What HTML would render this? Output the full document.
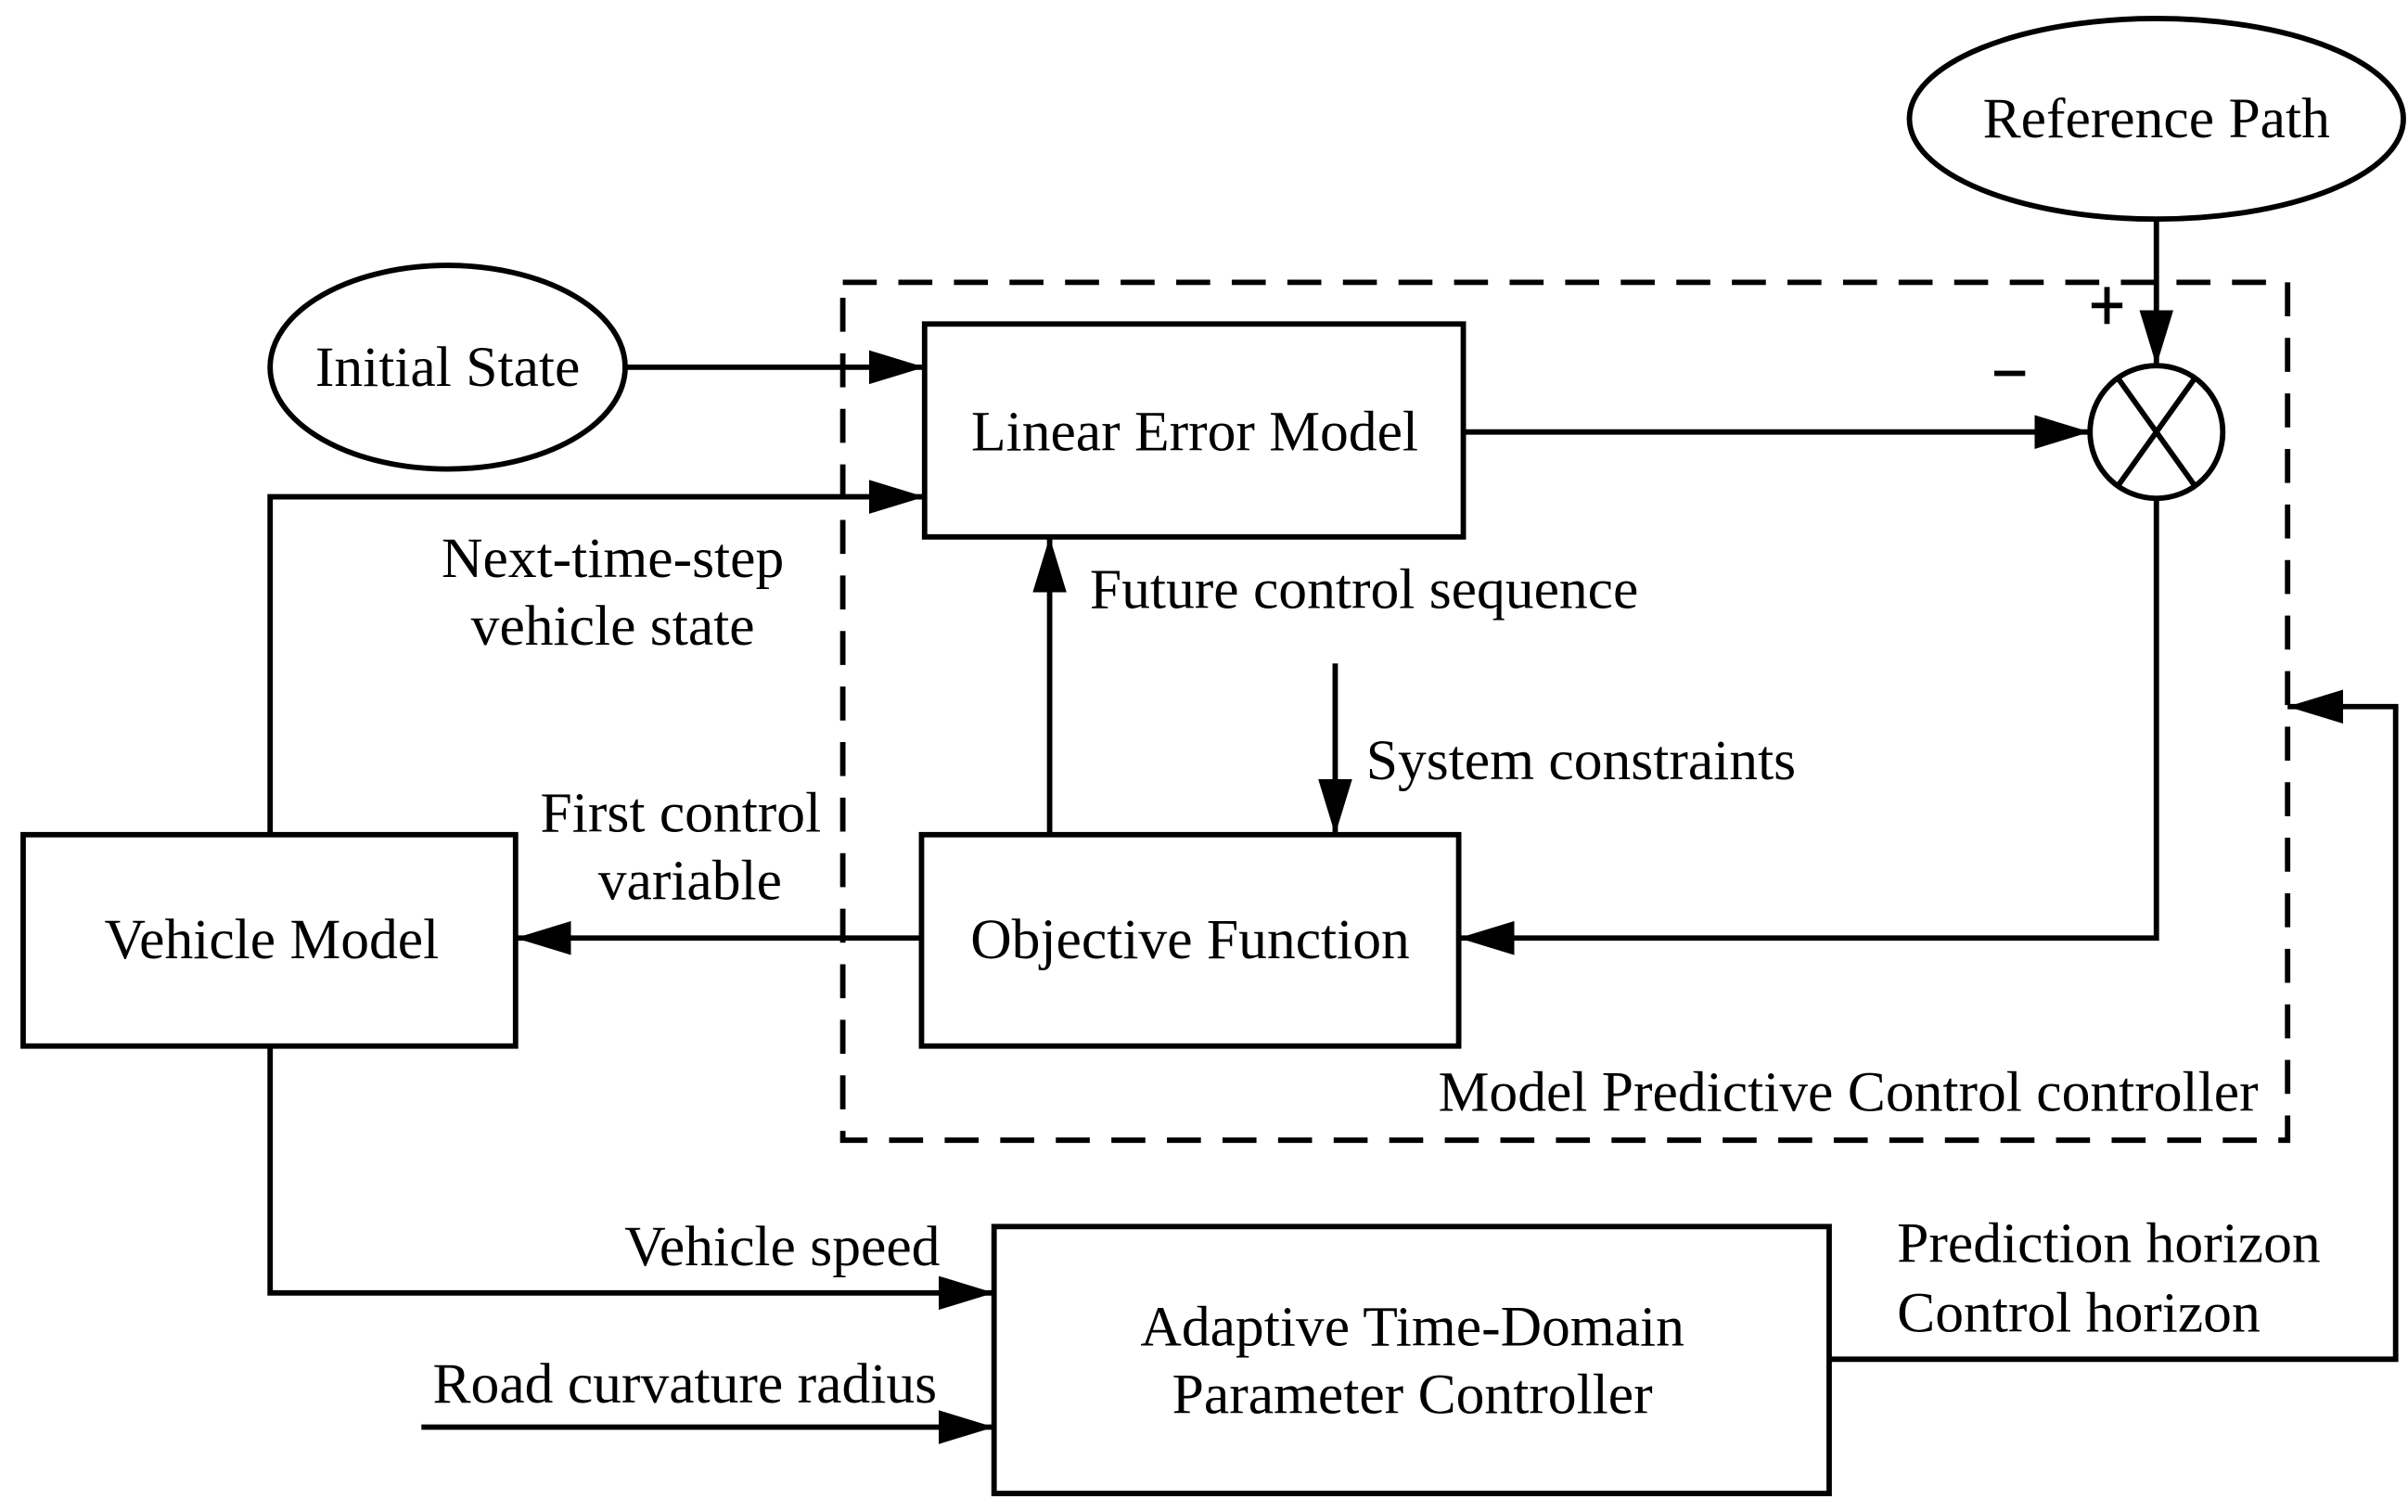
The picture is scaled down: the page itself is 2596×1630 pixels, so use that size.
<!DOCTYPE html>
<html><head><meta charset="utf-8"><style>html,body{margin:0;padding:0;background:#fff}svg{display:block}</style></head>
<body>
<svg width="2596" height="1630" viewBox="0 0 1560 980" preserveAspectRatio="none" xmlns="http://www.w3.org/2000/svg" font-family="Liberation Serif, serif" font-size="37">
<defs>
<marker id="b" viewBox="0 0 36 22" refX="36" refY="11" markerWidth="36" markerHeight="22" orient="auto" markerUnits="userSpaceOnUse"><path d="M0,0 L36,11 L0,22z" fill="#000"/></marker></defs>
<g fill="none" stroke="#000" stroke-width="3.5">
<ellipse cx="1397" cy="77" rx="160" ry="65"/>
<rect x="546" y="183" width="936" height="556" stroke-dasharray="22,14"/>
<ellipse cx="290" cy="238" rx="115" ry="66"/>
<rect x="599" y="210" width="349" height="138"/>
<ellipse cx="1397" cy="280" rx="43" ry="43"/>
<path d="M1372,245 L1422,315 M1422,245 L1372,315"/>
<rect x="597" y="541" width="348" height="137"/>
<rect x="15" y="541" width="319" height="137"/>
<rect x="644" y="795" width="541" height="173"/>
<path d="M405,238 H599" marker-end="url(#b)"/>
<path d="M175,541 V322 H599" marker-end="url(#b)"/>
<path d="M948,280 H1354" marker-end="url(#b)"/>
<path d="M1397,142 V237" marker-end="url(#b)"/>
<path d="M1397,323 V608 H945" marker-end="url(#b)"/>
<path d="M680,541 V348" marker-end="url(#b)"/>
<path d="M865,430 V541" marker-end="url(#b)"/>
<path d="M597,608 H334" marker-end="url(#b)"/>
<path d="M175,678 V838 H644" marker-end="url(#b)"/>
<path d="M273,925 H644" marker-end="url(#b)"/>
<path d="M1185,881 H1552 V458 H1482" marker-end="url(#b)"/>
<path d="M1365,210 V186 M1355,198 H1375 M1292,242 H1312"/>
</g>
<g fill="#000">
<text x="1397" y="89" text-anchor="middle">Reference Path</text>
<text x="290" y="250" text-anchor="middle">Initial State</text>
<text x="774" y="292" text-anchor="middle">Linear Error Model</text>
<text x="771" y="621" text-anchor="middle">Objective Function</text>
<text x="176" y="621" text-anchor="middle">Vehicle Model</text>
<text x="915" y="872" text-anchor="middle">Adaptive Time-Domain</text>
<text x="915" y="916" text-anchor="middle">Parameter Controller</text>
<text x="397" y="374" text-anchor="middle">Next-time-step</text>
<text x="397" y="418" text-anchor="middle">vehicle state</text>
<text x="706" y="394">Future control sequence</text>
<text x="885" y="505">System constraints</text>
<text x="441" y="539" text-anchor="middle">First control</text>
<text x="447" y="583" text-anchor="middle">variable</text>
<text x="1463" y="720" text-anchor="end">Model Predictive Control controller</text>
<text x="609" y="820" text-anchor="end">Vehicle speed</text>
<text x="607" y="909" text-anchor="end">Road curvature radius</text>
<text x="1229" y="818">Prediction horizon</text>
<text x="1229" y="863">Control horizon</text>
</g>
</svg>
</body></html>
